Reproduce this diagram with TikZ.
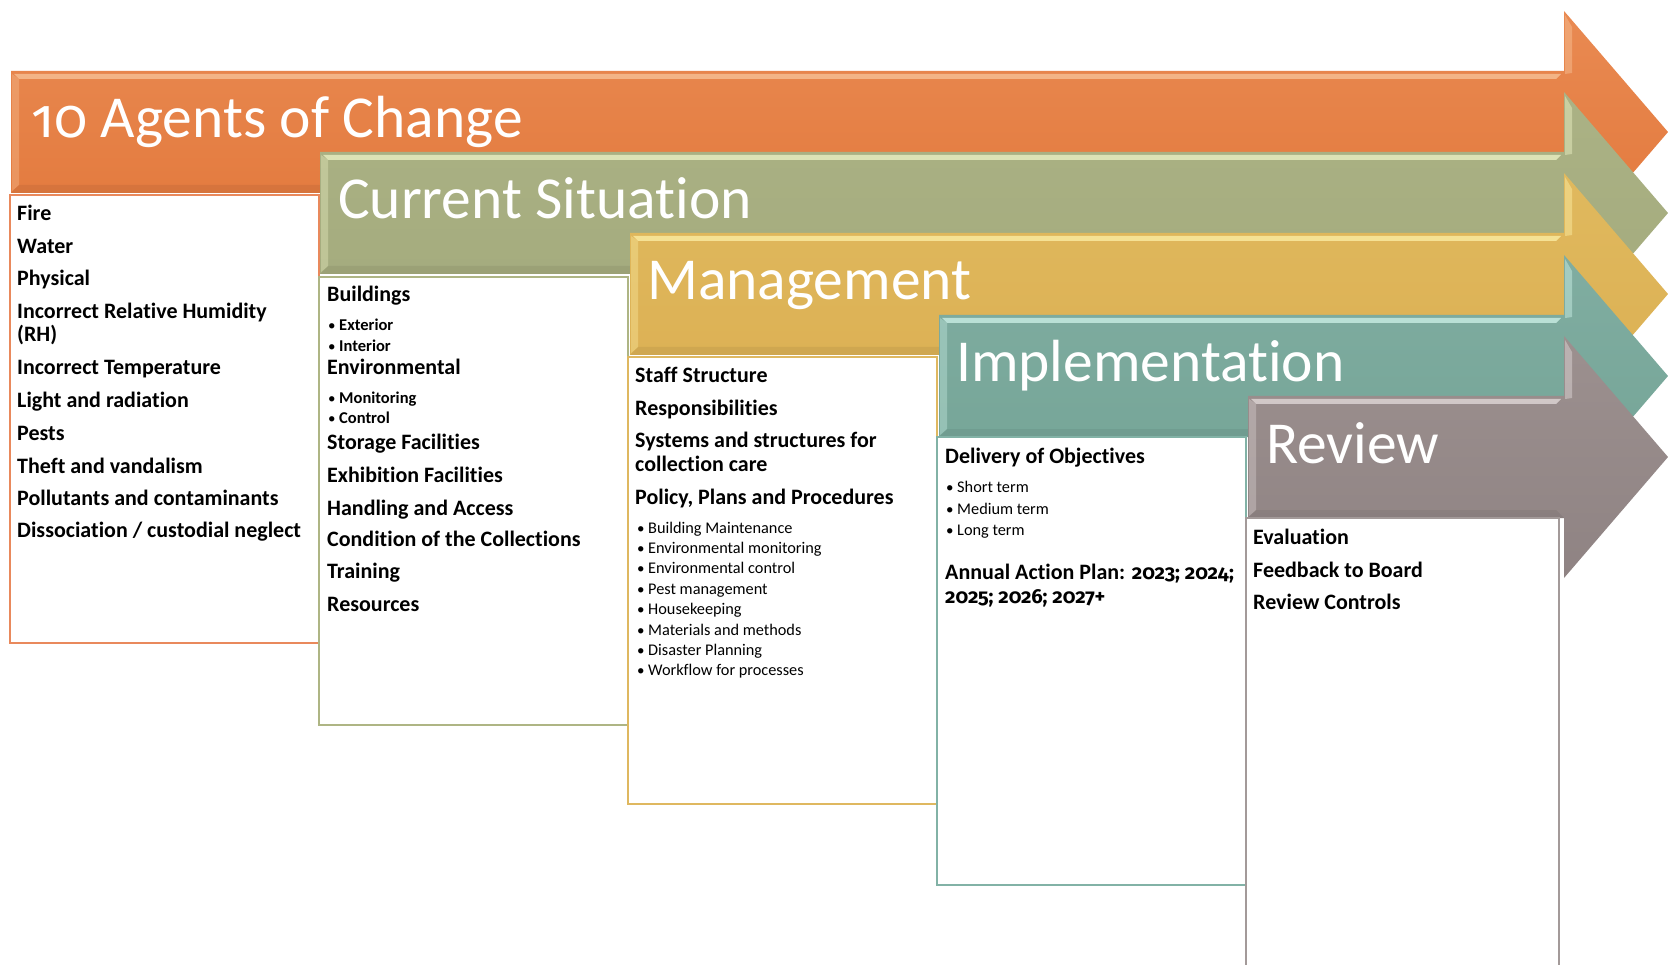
\documentclass[tikz,border=0pt]{standalone}
\usepackage{fontspec}
\setmainfont{Carlito}[Ligatures=NoCommon]
\newfontfamily\osf{Fira Sans}[Numbers={OldStyle,Proportional},Scale=0.92,Ligatures=NoCommon]
\definecolor{orT}{HTML}{E98A52}
\definecolor{orB}{HTML}{E2773A}
\definecolor{orH}{HTML}{F8C49A}
\definecolor{orL}{HTML}{E9895C}
\definecolor{grT}{HTML}{ABB285}
\definecolor{grB}{HTML}{A3AA7C}
\definecolor{grH}{HTML}{EEF3C6}
\definecolor{grL}{HTML}{AEB584}
\definecolor{yeT}{HTML}{E0B95E}
\definecolor{yeB}{HTML}{DBAF52}
\definecolor{yeH}{HTML}{FDF0A8}
\definecolor{yeL}{HTML}{DFB860}
\definecolor{teT}{HTML}{80ADA1}
\definecolor{teB}{HTML}{74A496}
\definecolor{teH}{HTML}{CFF3EA}
\definecolor{teL}{HTML}{82B2A6}
\definecolor{gyT}{HTML}{9C908F}
\definecolor{gyB}{HTML}{8F8383}
\definecolor{gyH}{HTML}{E4DCDC}
\definecolor{gyL}{HTML}{A39A99}
% #1 left x, #2 top y, #3 top colour, #4 bottom colour, #5 highlight
\newcommand\stagearrow[5]{%
  \shade[top color=#3,bottom color=#4]
    (#1,#2) -- (1564,#2) -- (1564,{#2-60}) -- (1668,{#2+61})
    -- (1564,{#2+182}) -- (1564,{#2+122}) -- (#1,{#2+122}) -- cycle;
  \fill[#5,opacity=.75] ({#1+3},{#2+3}) -- (1561,{#2+3}) -- (1556,{#2+8}) -- ({#1+8},{#2+8}) -- cycle;
  \fill[#5,opacity=.35] ({#1+1},{#2+3}) -- ({#1+8},{#2+8}) -- ({#1+8},{#2+114}) -- ({#1+1},{#2+120}) -- cycle;
  \fill[#5,opacity=.45] (1565,{#2-56}) -- (1572,{#2-44}) -- (1572,{#2+2}) -- (1565,{#2+3}) -- cycle;
  \fill[black,opacity=.06] ({#1+8},{#2+114}) -- (1556,{#2+114}) -- (1564,{#2+122}) -- (#1,{#2+122}) -- cycle;
}
\tikzset{
  hdr/.style={font=\fontsize{59.5}{60}\selectfont, text=white, anchor=base west, inner sep=0pt},
  itm/.style={font=\bfseries\fontsize{22}{26}\selectfont, anchor=base west, inner sep=0pt},
  subb/.style={font=\bfseries\fontsize{16.5}{19}\selectfont, anchor=base west, inner sep=0pt},
  subr/.style={font=\fontsize{16.3}{19}\selectfont, anchor=base west, inner sep=0pt},
  bul/.style={font=\fontsize{15}{18}\selectfont, anchor=base west, inner sep=0pt},
  panel/.style={draw=#1, line width=2.3pt, fill=white}
}
\begin{document}
\begin{tikzpicture}[x=1pt,y=-1pt]
\useasboundingbox (0,0) rectangle (1668,965);
\fill[white] (0,0) rectangle (1668,965);

% arrows
\stagearrow{11}{71}{orT}{orB}{orH}
\stagearrow{320}{152}{grT}{grB}{grH}
\stagearrow{630}{233}{yeT}{yeB}{yeH}
\stagearrow{939}{315}{teT}{teB}{teH}
\stagearrow{1248}{396}{gyT}{gyB}{gyH}

% panels
\draw[panel=orL] (10,195) rectangle (319,643);
\draw[panel=grL] (319,277) rectangle (628,725);
\draw[panel=yeL] (628,357) rectangle (937,804);
\draw[panel=teL] (937,437) rectangle (1246,885);
\draw[panel=gyL] (1246,518) rectangle (1559,975);

% headings
\node[hdr] (h1) at (31,138) {{\osf\fontseries{l}\selectfont 10} Agents of Change};
\node[hdr] (h2) at (338,219) {Current Situation};
\node[hdr] (h3) at (647,300) {Management};
\node[hdr] (h4) at (956,382) {Implementation};
\node[hdr] (h5) at (1266,463) {Review};

% 10 agents
\node[itm] (a1) at (17,221) {Fire};
\node[itm] (a2) at (17,254) {Water};
\node[itm] (a3) at (17,286) {Physical};
\node[itm] (a4) at (17,319) {Incorrect Relative Humidity};
\node[itm] (a4b) at (17,342) {(RH)};
\node[itm] (a5) at (17,375) {Incorrect Temperature};
\node[itm] (a6) at (17,407) {Light and radiation};
\node[itm] (a7) at (17,440) {Pests};
\node[itm] (a8) at (17,473) {Theft and vandalism};
\node[itm] (a9) at (17,505) {Pollutants and contaminants};
\node[itm] (a10) at (17,537) {Dissociation / custodial neglect};

% current situation
\node[itm] (c1) at (327,302) {Buildings};
\node[bul] (c1a) at (328,331) {•};
\node[subb] (c1at) at (339,331) {Exterior};
\node[bul] (c1b) at (328,352) {•};
\node[subb] (c1bt) at (339,352) {Interior};
\node[itm] (c2) at (327,375) {Environmental};
\node[bul] (c2a) at (328,404) {•};
\node[subb] (c2at) at (339,404) {Monitoring};
\node[bul] (c2b) at (328,424) {•};
\node[subb] (c2bt) at (339,424) {Control};
\node[itm] (c3) at (327,449) {Storage Facilities};
\node[itm] (c4) at (327,482) {Exhibition Facilities};
\node[itm] (c5) at (327,515) {Handling and Access};
\node[itm] (c6) at (327,546) {Condition of the Collections};
\node[itm] (c7) at (327,578) {Training};
\node[itm] (c8) at (327,611) {Resources};

% management
\node[itm] (m1) at (635,383) {Staff Structure};
\node[itm] (m2) at (635,416) {Responsibilities};
\node[itm] (m3) at (635,447) {Systems and structures for};
\node[itm] (m3b) at (635,471) {collection care};
\node[itm] (m4) at (635,504) {Policy, Plans and Procedures};
\foreach \t [count=\i from 0] in {Building Maintenance,Environmental monitoring,Environmental control,Pest management,Housekeeping,Materials and methods,Disaster Planning,Workflow for processes}{
  \node[bul] (mb\i) at (637,{533+20.4*\i}) {•};
  \node[subr] (mt\i) at (648,{533+20.4*\i}) {\t};
}

% implementation
\node[itm] (i1) at (945,463) {Delivery of Objectives};
\node[bul] (ib1) at (946,492) {•};
\node[subr] (it1) at (957,492) {Short term};
\node[bul] (ib2) at (946,514) {•};
\node[subr] (it2) at (957,514) {Medium term};
\node[bul] (ib3) at (946,535) {•};
\node[subr] (it3) at (957,535) {Long term};
\node[itm] (i2) at (945,579) {Annual Action Plan: {\osf\bfseries 2023; 2024;}};
\node[itm] (i2b) at (945,603) {{\osf\bfseries 2025; 2026; 2027+}};

% review
\node[itm] (r1) at (1253,544) {Evaluation};
\node[itm] (r2) at (1253,577) {Feedback to Board};
\node[itm] (r3) at (1253,609) {Review Controls};
\end{tikzpicture}
\end{document}
